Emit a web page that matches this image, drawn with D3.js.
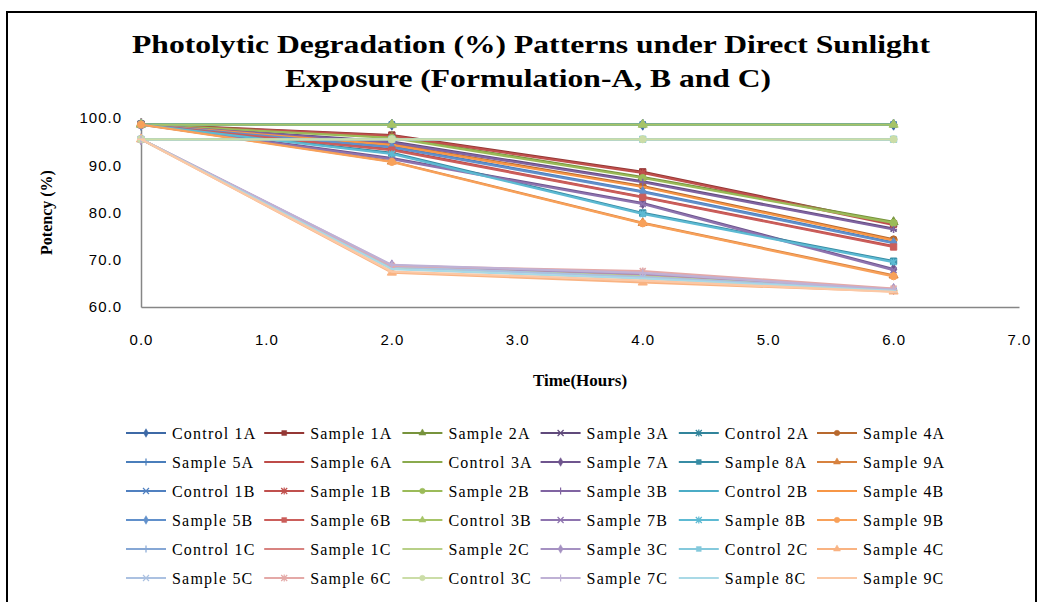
<!DOCTYPE html>
<html>
<head>
<meta charset="utf-8">
<script src="https://cdn.jsdelivr.net/npm/d3@7"></script>
<style>
  body { margin: 0; background: #fff; }
  svg { display: block; }
</style>
</head>
<body>
<svg width="1042" height="602"></svg>
<script>
// time points (hours)
const times = [0, 2, 4, 6];
const xTicks = [0, 1, 2, 3, 4, 5, 6, 7];
const yTicks = [60, 70, 80, 90, 100];

// series names, in legend order
const namesA = ["Control 1A", "Sample 1A", "Sample 2A", "Sample 3A", "Control 2A", "Sample 4A",
                "Sample 5A", "Sample 6A", "Control 3A", "Sample 7A", "Sample 8A", "Sample 9A"];
const namesB = ["Control 1B", "Sample 1B", "Sample 2B", "Sample 3B", "Control 2B", "Sample 4B",
                "Sample 5B", "Sample 6B", "Control 3B", "Sample 7B", "Sample 8B", "Sample 9B"];
const namesC = ["Control 1C", "Sample 1C", "Sample 2C", "Sample 3C", "Control 2C", "Sample 4C",
                "Sample 5C", "Sample 6C", "Control 3C", "Sample 7C", "Sample 8C", "Sample 9C"];

// potency (%) at 0, 2, 4, 6 h
const valuesA = [
  [98.6, 98.6, 98.6, 98.6],
  [98.7, 96.4, 88.6, 77.6],
  [98.7, 96.0, 87.5, 78.0],
  [98.7, 95.0, 86.6, 76.6],
  [98.6, 98.6, 98.6, 98.6],
  [98.7, 94.5, 85.6, 74.3],
  [98.7, 94.0, 84.5, 73.7],
  [98.7, 93.4, 83.3, 72.9],
  [98.6, 98.6, 98.6, 98.6],
  [98.7, 91.5, 82.0, 68.0],
  [98.7, 92.6, 79.9, 69.7],
  [98.7, 90.8, 77.8, 66.7]
];
const valuesB = [
  [98.6, 98.6, 98.6, 98.6],
  [98.6, 96.2, 88.4, 77.4],
  [98.6, 95.8, 87.3, 77.8],
  [98.6, 94.8, 86.4, 76.4],
  [98.6, 98.6, 98.6, 98.6],
  [98.6, 94.3, 85.4, 74.1],
  [98.6, 93.8, 84.3, 73.5],
  [98.6, 93.2, 83.2, 72.7],
  [98.6, 98.6, 98.6, 98.6],
  [98.6, 91.3, 81.8, 67.8],
  [98.6, 92.4, 79.7, 69.5],
  [98.6, 90.7, 77.7, 66.5]
];
const valuesC = [
  [95.5, 95.5, 95.5, 95.5],
  [95.5, 68.6, 66.8, 63.6],
  [95.5, 68.4, 66.5, 63.5],
  [95.5, 68.8, 67.0, 63.8],
  [95.5, 95.5, 95.5, 95.5],
  [95.5, 67.3, 65.2, 63.3],
  [95.5, 68.5, 66.3, 63.6],
  [95.5, 68.7, 67.6, 63.9],
  [95.5, 95.5, 95.5, 95.5],
  [95.5, 68.9, 67.2, 63.7],
  [95.5, 68.0, 66.0, 63.4],
  [95.5, 67.5, 65.6, 63.2]
];

// colour shades, one row per group of six series (dark -> light)
const shades = [
  ["#3d69a6", "#953735", "#77933c", "#604a7b", "#31849b", "#b8692e"],
  ["#4a7ebb", "#be4b48", "#8aaa4d", "#6f558e", "#378ca4", "#d7823f"],
  ["#5080c0", "#c0504d", "#9bbb59", "#8064a2", "#4bacc6", "#f79646"],
  ["#6190cb", "#cb5e5b", "#a6c467", "#8e74af", "#5dbad3", "#f8a15a"],
  ["#86a7d5", "#d88380", "#b8d088", "#a591c2", "#84c9dc", "#f9b382"],
  ["#abc1e1", "#e4a9a7", "#cbdda7", "#bfb1d5", "#a9d9e6", "#fbc8a5"]
];
const markerCycle = ["diamond", "square", "triangle", "x", "star", "circle", "plus", "dash", "longdash"];

const names = namesA.concat(namesB, namesC);
const allValues = valuesA.concat(valuesB, valuesC);
const series = names.map((name, i) => ({
  name: name,
  color: shades[Math.floor(i / 6)][i % 6],
  marker: markerCycle[i % 9],
  points: times.map((t, j) => ({ t: t, v: allValues[i][j] }))
}));

const svg = d3.select("svg");

// outer chart frame
svg.append("rect")
  .attr("x", 7).attr("y", 12)
  .attr("width", 1029).attr("height", 620)
  .attr("fill", "none")
  .attr("stroke", "#000")
  .attr("stroke-width", 2);

// title
const title = svg.append("g")
  .attr("font-family", "'Liberation Serif', 'Times New Roman', serif")
  .attr("font-weight", "bold")
  .attr("font-size", 26)
  .attr("fill", "#000");
title.append("text").attr("x", 531).attr("y", 53).attr("text-anchor", "middle")
  .attr("textLength", 798).attr("lengthAdjust", "spacingAndGlyphs")
  .text("Photolytic Degradation (%) Patterns under Direct Sunlight");
title.append("text").attr("x", 528).attr("y", 87).attr("text-anchor", "middle")
  .attr("textLength", 486).attr("lengthAdjust", "spacingAndGlyphs")
  .text("Exposure (Formulation-A, B and C)");

const x = d3.scaleLinear().domain([0, 7]).range([141, 1019]);
const y = d3.scaleLinear().domain([60, 100]).range([307, 118]);

const yAxis = svg.append("g")
  .attr("transform", `translate(${x(0)},0)`)
  .call(d3.axisLeft(y).tickValues(yTicks).tickFormat(d3.format(".1f"))
    .tickSize(0).tickPadding(19));
const xAxis = svg.append("g")
  .attr("transform", `translate(0,${y(60)})`)
  .call(d3.axisBottom(x).tickValues(xTicks).tickFormat(d3.format(".1f"))
    .tickSize(0).tickPadding(27));
[xAxis, yAxis].forEach(g => {
  g.select(".domain").attr("stroke", "#868686").attr("stroke-width", 1.5);
  g.selectAll("text")
    .attr("font-family", "'Liberation Sans', Arial, sans-serif")
    .attr("font-size", 15)
    .attr("letter-spacing", 1)
    .attr("fill", "#000");
});

// axis titles
svg.append("text")
  .attr("transform", `translate(52,${(y(60) + y(100)) / 2}) rotate(-90)`)
  .attr("text-anchor", "middle")
  .attr("font-family", "'Liberation Serif', 'Times New Roman', serif")
  .attr("font-weight", "bold").attr("font-size", 16)
  .text("Potency (%)");
svg.append("text")
  .attr("x", 580).attr("y", 386)
  .attr("text-anchor", "middle")
  .attr("font-family", "'Liberation Serif', 'Times New Roman', serif")
  .attr("font-weight", "bold").attr("font-size", 17)
  .text("Time(Hours)");

// marker shapes
function markerPath(type, k) {
  switch (type) {
    case "diamond": return d3.symbol(d3.symbolDiamond, 36 * k)();
    case "square": return d3.symbol(d3.symbolSquare, 40 * k)();
    case "triangle": return d3.symbol(d3.symbolTriangle, 36 * k)();
    case "circle": return d3.symbol(d3.symbolCircle, 40 * k)();
    case "x": return "M-3,-3L3,3M-3,3L3,-3";
    case "star": return "M-3,-3L3,3M-3,3L3,-3M0,-3.5L0,3.5";
    case "plus": return "M-3.5,0L3.5,0M0,-3.5L0,3.5";
    case "dash": return "M-2.5,0L2.5,0";
    case "longdash": return "M-4,0L4,0";
  }
}
const filled = ["diamond", "square", "triangle", "circle"];

const line = d3.line().x(d => x(d.t)).y(d => y(d.v));

const plot = svg.append("g");
series.forEach(s => {
  const g = plot.append("g");
  g.append("path")
    .datum(s.points)
    .attr("fill", "none")
    .attr("stroke", s.color)
    .attr("stroke-width", 2.25)
    .attr("stroke-linejoin", "round")
    .attr("d", line);
  g.selectAll("path.mk")
    .data(s.points)
    .join("path")
    .attr("class", "mk")
    .attr("transform", d => `translate(${x(d.t)},${y(d.v)})`)
    .attr("d", markerPath(s.marker, 1))
    .attr("fill", filled.includes(s.marker) ? s.color : "none")
    .attr("stroke", s.color)
    .attr("stroke-width", filled.includes(s.marker) ? 1 : 1.6);
});

// legend: 6 columns, 6 rows
const legend = svg.append("g");
series.forEach((s, i) => {
  const col = i % 6, row = Math.floor(i / 6);
  const lx = 126 + col * 138.2, ly = 433 + row * 29;
  const g = legend.append("g").attr("transform", `translate(${lx},${ly})`);
  g.append("line").attr("x1", 0).attr("x2", 40).attr("y1", 0).attr("y2", 0)
    .attr("stroke", s.color).attr("stroke-width", 2);
  g.append("path")
    .attr("transform", "translate(20,0)")
    .attr("d", markerPath(s.marker, 0.6))
    .attr("fill", filled.includes(s.marker) ? s.color : "none")
    .attr("stroke", s.color)
    .attr("stroke-width", filled.includes(s.marker) ? 0.5 : 1.2);
  g.append("text")
    .attr("x", 46).attr("y", 0).attr("dy", "0.35em")
    .attr("font-family", "'Liberation Serif', 'Times New Roman', serif")
    .attr("font-size", 16)
    .attr("letter-spacing", 1.2)
    .attr("fill", "#000")
    .text(s.name);
});
</script>
</body>
</html>
